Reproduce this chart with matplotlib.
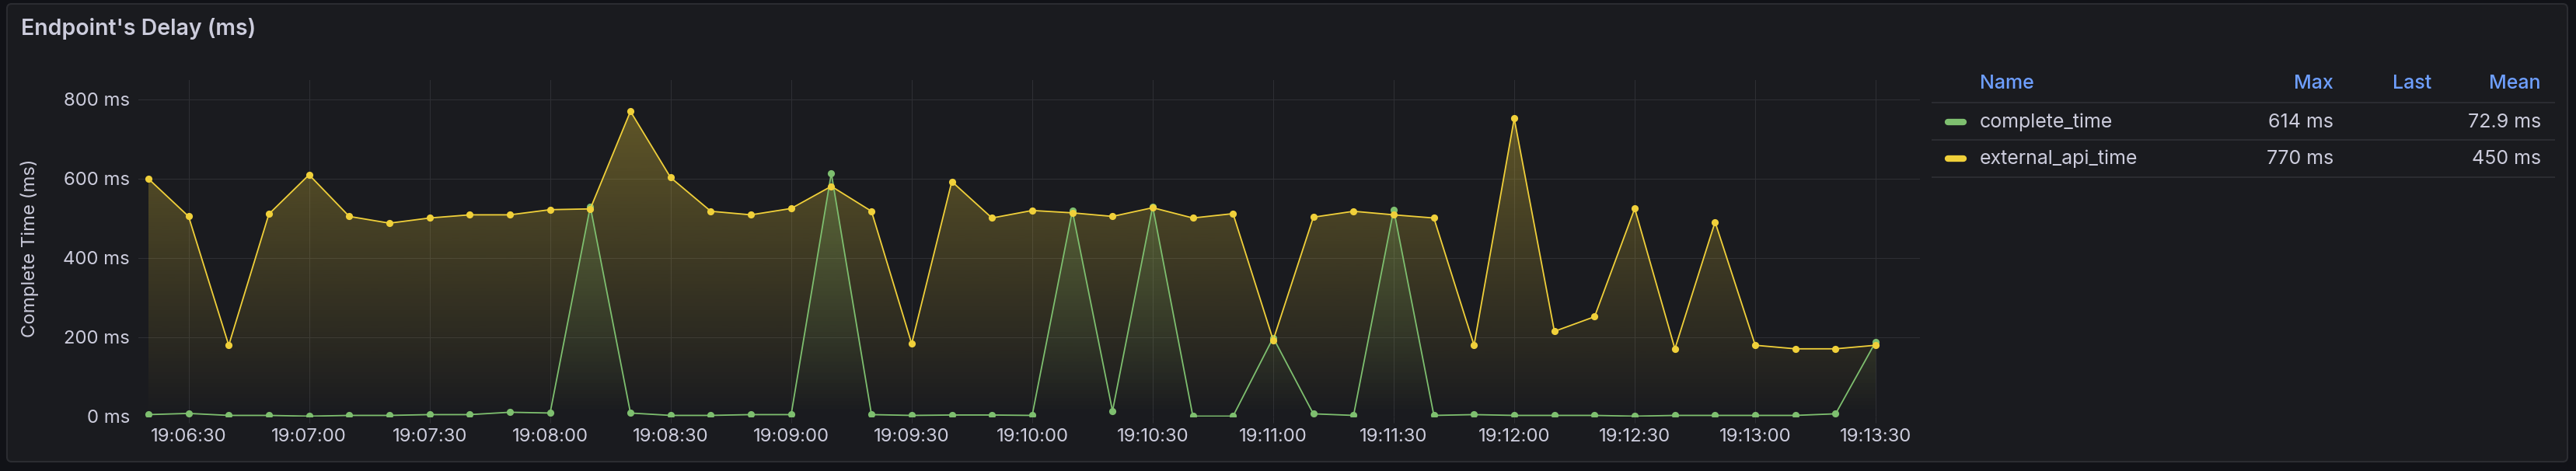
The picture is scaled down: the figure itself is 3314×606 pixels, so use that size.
import matplotlib
matplotlib.use("Agg")
import matplotlib.dates as mdates
import matplotlib.pyplot as plt
import numpy as np
import pandas as pd
from matplotlib.colors import to_rgb
from matplotlib.lines import Line2D
from matplotlib.patches import FancyBboxPatch
from matplotlib.ticker import FuncFormatter

W, H, DPI = 3314, 606, 100

# samples every 10 s, 19:06:20 -> 19:13:30
TIMES = pd.date_range("2024-01-01 19:06:20", periods=44, freq="10s")
COMPLETE_TIME = [5, 8, 3, 3, 1, 3, 3, 5, 5, 11, 9, 530, 9, 3, 3, 5, 5, 614, 5, 3,
                 4, 4, 3, 519, 14, 530, 1, 1, 199, 7, 3, 522, 3, 5, 3, 3, 3, 1, 3, 3,
                 3, 3, 7, 189]
EXTERNAL_API_TIME = [600, 505, 180, 511, 610, 505, 488, 501, 509, 509, 522, 524, 770,
                     603, 518, 509, 525, 581, 518, 184, 593, 501, 520, 514, 505, 527,
                     501, 512, 193, 503, 518, 509, 501, 180, 752, 215, 252, 525, 171,
                     491, 180, 171, 171, 180]

SERIES_NAMES = ["complete_time", "external_api_time"]
MAX_LABELS = ["614 ms", "770 ms"]
LAST_LABELS = ["", ""]
MEAN_LABELS = ["72.9 ms", "450 ms"]
Y_TICKS = [0, 200, 400, 600, 800]

# grafana dark-ish palette
BG = "#111217"
PANEL = "#1a1b1f"
BORDER = "#2b2c31"
GRID = "#2e2f34"
TEXT = "#ccccdc"
BLUE = "#6e9fff"
GREEN = "#7ebf6f"
YELLOW = "#f0d03a"

plt.rcParams["font.family"] = ["Inter", "DejaVu Sans"]


def fx(px):
    return px / W


def fy(py):
    return 1 - py / H


def gradient_fill(ax, x, y, color, top, amax=0.36):
    poly = ax.fill_between(x, 0, y, facecolor="none", edgecolor="none")
    img = np.zeros((256, 1, 4))
    img[..., :3] = to_rgb(color)
    img[..., 3] = np.linspace(0, 1, 256).reshape(-1, 1) * amax
    xn = mdates.date2num(x)
    im = ax.imshow(img, aspect="auto", origin="lower", interpolation="bilinear",
                   extent=[xn[0], xn[-1], 0, top], zorder=1)
    im.set_clip_path(poly.get_paths()[0], transform=ax.transData)


fig = plt.figure(figsize=(W / DPI, H / DPI), dpi=DPI)
fig.patch.set_facecolor(BG)

panel = FancyBboxPatch((9 / DPI, (H - 594) / DPI), (3303 - 9) / DPI, (594 - 5) / DPI,
                       boxstyle="round,pad=0,rounding_size=0.06",
                       transform=fig.dpi_scale_trans, facecolor=PANEL,
                       edgecolor=BORDER, linewidth=1.5, zorder=-5)
fig.patches.append(panel)

fig.text(fx(27), fy(37), "Endpoint's Delay (ms)", fontsize=20.5,
         fontweight="semibold", color=TEXT, va="center")

ax = fig.add_axes([fx(178), fy(536), (2470 - 178) / W, (536 - 103) / H])
ax.set_facecolor("none")
YTOP = 849

gradient_fill(ax, TIMES, EXTERNAL_API_TIME, YELLOW, YTOP)
gradient_fill(ax, TIMES, COMPLETE_TIME, GREEN, YTOP)
ax.plot(TIMES, COMPLETE_TIME, color=GREEN, lw=1.3, marker="o", ms=6.6,
        markeredgewidth=0, zorder=3)
ax.plot(TIMES, EXTERNAL_API_TIME, color=YELLOW, lw=1.3, marker="o", ms=6.6,
        markeredgewidth=0, zorder=4)

ax.set_ylim(0, YTOP)
ax.set_xlim(TIMES[0] - pd.Timedelta(seconds=2.5), TIMES[-1] + pd.Timedelta(seconds=11))
ax.set_yticks(Y_TICKS)
ax.yaxis.set_major_formatter(FuncFormatter(lambda v, p: f"{v:.0f} ms"))
ax.xaxis.set_major_locator(mdates.SecondLocator(bysecond=[0, 30]))
ax.xaxis.set_major_formatter(mdates.DateFormatter("%H:%M:%S"))
ax.grid(True, color=GRID, linewidth=0.75, zorder=0)
ax.set_axisbelow(True)
for s in ax.spines.values():
    s.set_visible(False)
ax.tick_params(axis="y", length=0, pad=8, labelsize=17.2, labelcolor=TEXT)
ax.tick_params(axis="x", length=5.8, width=0.75, color=GRID, pad=5,
               labelsize=17.2, labelcolor=TEXT)
ax.set_ylabel("Complete Time (ms)", color=TEXT, fontsize=17.2)
ax.yaxis.set_label_coords((50 - 178) / 2292, 0.5)

# legend table
hdr_y, row_ys, seps = 108, [157, 204], [132, 180, 228]
cols = [(2547, "Name", "left"), (3002, "Max", "right"),
        (3128, "Last", "right"), (3269, "Mean", "right")]
for x, lab, ha in cols:
    fig.text(fx(x), fy(hdr_y), lab, color=BLUE, fontsize=18, fontweight="medium",
             ha=ha, va="center")
for y in seps:
    fig.add_artist(Line2D([fx(2486), fx(3286)], [fy(y), fy(y)], color=BORDER, lw=1.5))
for y, name, col, mx, last, mean in zip(row_ys, SERIES_NAMES, [GREEN, YELLOW],
                                        MAX_LABELS, LAST_LABELS, MEAN_LABELS):
    fig.add_artist(Line2D([fx(2506), fx(2526)], [fy(y), fy(y)], color=col, lw=6,
                          solid_capstyle="round"))
    for x, s, ha in [(2547, name, "left"), (3002, mx, "right"),
                     (3128, last, "right"), (3269, mean, "right")]:
        fig.text(fx(x), fy(y), s, color=TEXT, fontsize=18, ha=ha, va="center")

fig.savefig("out.png", dpi=DPI, facecolor=BG)
